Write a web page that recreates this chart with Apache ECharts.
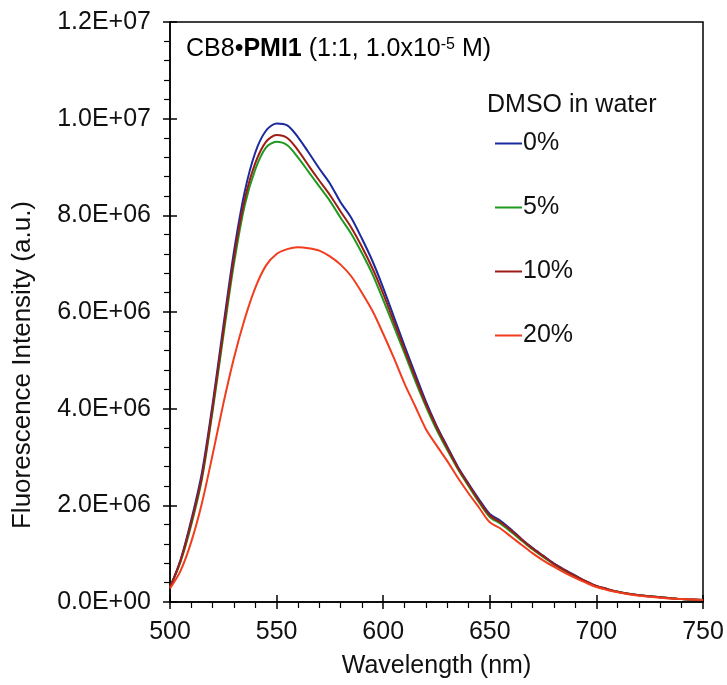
<!DOCTYPE html>
<html>
<head>
<meta charset="utf-8">
<script src="https://cdn.jsdelivr.net/npm/echarts@6/dist/echarts.min.js"></script>
<style>
  html, body { margin: 0; padding: 0; background: #fff; }
  #main { width: 727px; height: 685px; }
</style>
</head>
<body>
<div id="main"></div>
<script>
// wavelength (nm), every 5 nm
var wavelengths = [500, 505, 510, 515, 520, 525, 530, 535, 540, 545,
  550, 555, 560, 565, 570, 575, 580, 585, 590, 595,
  600, 605, 610, 615, 620, 625, 630, 635, 640, 645,
  650, 655, 660, 665, 670, 675, 680, 685, 690, 695,
  700, 705, 710, 715, 720, 725, 730, 735, 740, 745, 750];

// intensities in units of 1E+06
var dmso0 = [0.30, 0.88, 1.70, 2.68, 4.10, 5.70, 7.25, 8.48, 9.30, 9.75,
  9.90, 9.86, 9.62, 9.30, 8.97, 8.66, 8.27, 7.95, 7.52, 7.05,
  6.50, 5.90, 5.30, 4.72, 4.15, 3.65, 3.22, 2.80, 2.45, 2.12,
  1.82, 1.68, 1.50, 1.30, 1.12, 0.96, 0.80, 0.67, 0.55, 0.43,
  0.33, 0.27, 0.21, 0.17, 0.14, 0.12, 0.10, 0.08, 0.06, 0.05, 0.04];
var dmso5 = [0.30, 0.84, 1.60, 2.55, 3.95, 5.50, 7.00, 8.20, 8.95, 9.40,
  9.52, 9.45, 9.20, 8.90, 8.60, 8.30, 7.95, 7.62, 7.22, 6.78,
  6.25, 5.70, 5.15, 4.58, 4.05, 3.57, 3.15, 2.75, 2.40, 2.06,
  1.76, 1.62, 1.45, 1.27, 1.09, 0.93, 0.78, 0.65, 0.53, 0.42,
  0.32, 0.26, 0.21, 0.17, 0.14, 0.12, 0.10, 0.08, 0.06, 0.05, 0.04];
var dmso10 = [0.30, 0.86, 1.65, 2.60, 4.02, 5.60, 7.12, 8.32, 9.08, 9.52,
  9.66, 9.60, 9.35, 9.03, 8.72, 8.42, 8.08, 7.75, 7.35, 6.90,
  6.38, 5.80, 5.22, 4.65, 4.10, 3.62, 3.19, 2.78, 2.43, 2.09,
  1.79, 1.65, 1.48, 1.29, 1.11, 0.95, 0.79, 0.66, 0.54, 0.43,
  0.33, 0.27, 0.21, 0.17, 0.14, 0.12, 0.10, 0.08, 0.06, 0.05, 0.04];
var dmso20 = [0.28, 0.65, 1.25, 2.05, 3.05, 4.10, 5.05, 5.85, 6.50, 6.96,
  7.20, 7.30, 7.34, 7.32, 7.27, 7.15, 6.98, 6.74, 6.40, 6.02,
  5.55, 5.05, 4.52, 4.05, 3.58, 3.24, 2.92, 2.57, 2.25, 1.95,
  1.65, 1.52, 1.35, 1.18, 1.01, 0.86, 0.73, 0.61, 0.50, 0.40,
  0.31, 0.25, 0.20, 0.16, 0.13, 0.11, 0.09, 0.07, 0.06, 0.05, 0.04];

var seriesNames = ['0%', '5%', '10%', '20%'];
var seriesColors = ['#1b2a9c', '#1e9a1e', '#9e1c16', '#f23c1e'];
var UNIT = 1e6;

var FONT = '"Liberation Sans", Arial, sans-serif';

function pairs(vals) {
  return wavelengths.map(function (w, i) { return [w, vals[i] * UNIT]; });
}

function sci(v) {
  if (v === 0) return '0.0E+00';
  var e = Math.floor(Math.log10(v) + 1e-9);
  var m = v / Math.pow(10, e);
  return m.toFixed(1) + 'E+' + (e < 10 ? '0' + e : e);
}

var chart = echarts.init(document.getElementById('main'));

var axisLine = { show: true, lineStyle: { color: '#000', width: 1.5 } };

var option = {
  animation: false,
  backgroundColor: '#fff',
  textStyle: { fontFamily: FONT },
  grid: {
    left: 170, right: 24, top: 22, bottom: 83,
    show: true, borderColor: '#000', borderWidth: 1.5
  },
  legend: {
    orient: 'vertical',
    left: 495, top: 131,
    icon: 'rect',
    itemWidth: 27, itemHeight: 2,
    itemGap: 39,
    padding: 0,
    textStyle: { fontFamily: FONT, fontSize: 25, color: '#111', lineHeight: 25, padding: [0, 0, 0, -4] },
    data: seriesNames
  },
  xAxis: [{
    type: 'value', min: 500, max: 750, interval: 50,
    name: 'Wavelength (nm)', nameLocation: 'middle', nameGap: 52,
    nameTextStyle: { fontFamily: FONT, fontSize: 25, color: '#111' },
    axisLine: axisLine,
    axisTick: { show: true, length: 7, lineStyle: { color: '#000', width: 1.5 } },
    minorTick: { show: true, splitNumber: 5, length: 6, lineStyle: { color: '#000', width: 1.2 } },
    axisLabel: { fontFamily: FONT, fontSize: 25, color: '#111', margin: 18 },
    splitLine: { show: false }
  }, {
    // inner half of the crossing major ticks
    type: 'value', min: 500, max: 750, interval: 50, position: 'bottom',
    axisLine: { show: false },
    axisTick: { show: true, inside: true, length: 7, lineStyle: { color: '#000', width: 1.5 } },
    axisLabel: { show: false }, splitLine: { show: false }
  }],
  yAxis: [{
    type: 'value', min: 0, max: 1.2e7, interval: 2e6,
    axisLine: axisLine,
    axisTick: { show: true, length: 7, lineStyle: { color: '#000', width: 1.5 } },
    minorTick: { show: true, splitNumber: 5, length: 6, lineStyle: { color: '#000', width: 1.2 } },
    axisLabel: { fontFamily: FONT, fontSize: 25, color: '#111', margin: 19, formatter: sci },
    splitLine: { show: false }
  }, {
    type: 'value', min: 0, max: 1.2e7, interval: 2e6, position: 'left',
    axisLine: { show: false },
    axisTick: { show: true, inside: true, length: 7, lineStyle: { color: '#000', width: 1.5 } },
    axisLabel: { show: false }, splitLine: { show: false }
  }],
  graphic: [{
    type: 'text', left: 186, top: 37,
    style: {
      text: '{a|CB8•}{b|PMI1}{a| (1:1, 1.0x10}{s|-5}{a| M)}',
      rich: {
        a: { fontFamily: FONT, fontSize: 25, color: '#111' },
        b: { fontFamily: FONT, fontSize: 25, fontWeight: 'bold', color: '#111' },
        s: { fontFamily: FONT, fontSize: 16, color: '#111', verticalAlign: 'top' }
      }
    }
  }, {
    type: 'text', left: 487, top: 93,
    style: { text: 'DMSO in water', fontFamily: FONT, fontSize: 25, fill: '#111' }
  }, {
    type: 'text', x: 23, y: 365, rotation: Math.PI / 2,
    style: {
      text: 'Fluorescence Intensity (a.u.)', fontFamily: FONT, fontSize: 26, fill: '#111',
      align: 'center', verticalAlign: 'middle'
    }
  }],
  series: seriesNames.map(function (name, i) {
    return {
      name: name,
      type: 'line',
      smooth: 0.3,
      showSymbol: false,
      symbol: 'none',
      lineStyle: { color: seriesColors[i], width: 2 },
      itemStyle: { color: seriesColors[i] },
      data: pairs([dmso0, dmso5, dmso10, dmso20][i])
    };
  })
};

chart.setOption(option);
</script>
</body>
</html>
